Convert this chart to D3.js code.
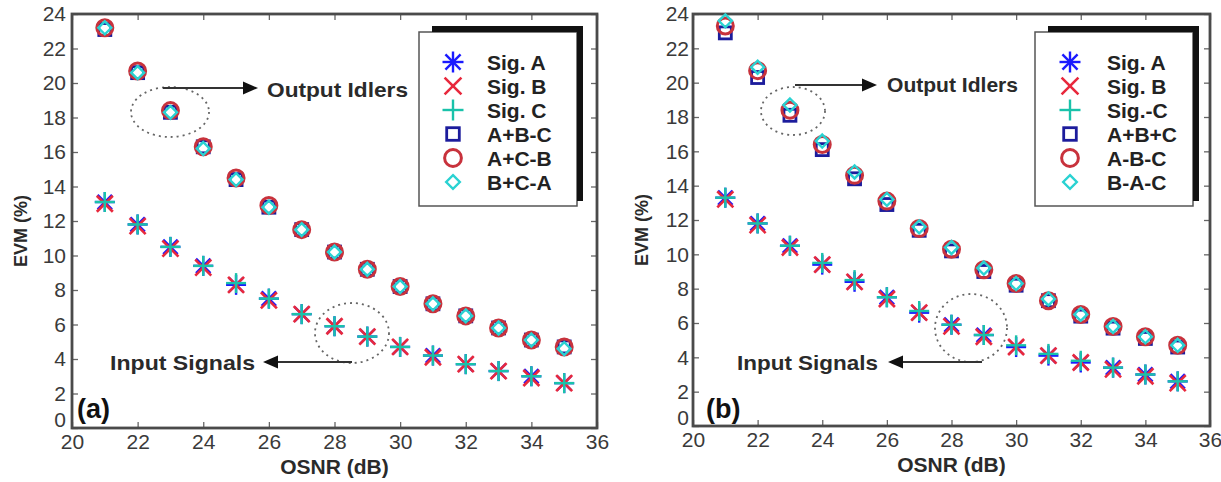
<!DOCTYPE html>
<html><head><meta charset="utf-8">
<script src="https://cdn.jsdelivr.net/npm/d3@7"></script>
<style>
body{margin:0;background:#fff;}
svg text{font-family:"Liberation Sans",Arial,sans-serif;}
</style></head>
<body><svg id="c" width="1221" height="482"></svg>
<script>
// ---------- data ----------
const osnr = [21,22,23,24,25,26,27,28,29,30,31,32,33,34,35];
const xTicks = [20,22,24,26,28,30,32,34,36];
const yTicks = [0,2,4,6,8,10,12,14,16,18,20,22,24];

// panel (a)
const sigA_a = [13.1,11.8,10.5,9.4,8.3,7.5,6.6,5.9,5.3,4.7,4.2,3.7,3.3,3.0,2.6];
const sigB_a = [13.0,11.7,10.4,9.3,8.3,7.4,6.6,5.9,5.3,4.7,4.1,3.7,3.3,2.9,2.6];
const sigC_a = [13.1,11.8,10.5,9.4,8.4,7.5,6.6,5.9,5.3,4.7,4.2,3.7,3.3,3.0,2.6];
const ABmC_a = [23.1,20.6,18.3,16.3,14.4,12.8,11.5,10.2,9.2,8.2,7.2,6.5,5.8,5.1,4.7];
const ACmB_a = [23.2,20.7,18.4,16.3,14.5,12.9,11.5,10.2,9.2,8.2,7.2,6.5,5.8,5.1,4.7];
const BCmA_a = [23.2,20.6,18.3,16.2,14.4,12.8,11.5,10.2,9.2,8.2,7.2,6.5,5.8,5.1,4.6];
const legendA = ["Sig. A","Sig. B","Sig. C","A+B-C","A+C-B","B+C-A"];

// panel (b)
const sigA_b = [13.3,11.8,10.5,9.4,8.4,7.5,6.6,5.9,5.3,4.6,4.1,3.7,3.4,3.0,2.6];
const sigB_b = [13.2,11.7,10.4,9.4,8.4,7.4,6.6,5.8,5.2,4.6,4.1,3.7,3.3,2.9,2.5];
const sigC_b = [13.3,11.8,10.5,9.5,8.5,7.5,6.7,5.9,5.3,4.7,4.2,3.8,3.4,3.0,2.6];
const ABC_b  = [22.9,20.3,18.1,16.1,14.4,12.9,11.4,10.2,9.0,8.2,7.3,6.4,5.7,5.1,4.6];
const AmBmC_b= [23.3,20.7,18.4,16.4,14.6,13.1,11.5,10.3,9.1,8.3,7.3,6.5,5.8,5.2,4.7];
const BmAmC_b= [23.6,20.9,18.7,16.6,14.8,13.2,11.6,10.4,9.2,8.3,7.4,6.5,5.8,5.2,4.7];
const legendB = ["Sig. A","Sig. B","Sig.-C","A+B+C","A-B-C","B-A-C"];

// ---------- drawing ----------
const svg = d3.select("#c");
const COL = {A:"#1a1aff", B:"#e8283c", C:"#19c2aa", sq:"#1c1c9c", ci:"#c8323c", di:"#2ad2d2"};

function marker(g, type, cx, cy, color, s){
  s = s || 1;
  const line = (l,w)=> g.append("line").attr("x1",cx+l[0]*s).attr("y1",cy+l[1]*s).attr("x2",cx+l[2]*s).attr("y2",cy+l[3]*s)
       .attr("stroke",color).attr("stroke-width",w);
  if(type==="star"){
    const r=10, d=r*0.72;
    [[-r,0,r,0],[0,-r,0,r],[-d,-d,d,d],[-d,d,d,-d]].forEach(l=>line(l,2.4));
  } else if(type==="x"){
    const d=8;
    [[-d,-d,d,d],[-d,d,d,-d]].forEach(l=>line(l,2.6));
  } else if(type==="plus"){
    const r=10;
    [[-r,0,r,0],[0,-r,0,r]].forEach(l=>line(l,2.4));
  } else if(type==="square"){
    const h=6*s;
    g.append("rect").attr("x",cx-h).attr("y",cy-h).attr("width",2*h).attr("height",2*h)
     .attr("fill","none").attr("stroke",color).attr("stroke-width",2.8);
  } else if(type==="circle"){
    g.append("circle").attr("cx",cx).attr("cy",cy).attr("r",8*s)
     .attr("fill","none").attr("stroke",color).attr("stroke-width",3);
  } else if(type==="diamond"){
    const h=6.5*s;
    g.append("path").attr("d",`M${cx},${cy-h}L${cx+h},${cy}L${cx},${cy+h}L${cx-h},${cy}Z`)
     .attr("fill","none").attr("stroke",color).attr("stroke-width",2.4);
  }
}

function panel(cfg){
  const {L,R,T,B} = cfg;
  const x = d3.scaleLinear().domain([20,36]).range([L,R]);
  const y = d3.scaleLinear().domain([0,24]).range([B,T]);
  const g = svg.append("g");

  // axes with inward ticks
  g.append("g").attr("transform",`translate(0,${B})`)
    .call(d3.axisBottom(x).tickValues(xTicks).tickSize(-6).tickSizeOuter(0).tickPadding(6));
  const ay = g.append("g").attr("transform",`translate(${L},0)`)
    .call(d3.axisLeft(y).tickValues(yTicks).tickSize(-6).tickSizeOuter(0).tickPadding(cfg.ypad));
  g.append("g").attr("transform",`translate(0,${T})`)
    .call(d3.axisTop(x).tickValues(xTicks).tickSize(-6).tickSizeOuter(0).tickFormat(""));
  g.append("g").attr("transform",`translate(${R},0)`)
    .call(d3.axisRight(y).tickValues(yTicks).tickSize(-6).tickSizeOuter(0).tickFormat(""));
  g.selectAll(".domain").remove();
  g.selectAll(".tick line").attr("stroke","#666").attr("stroke-width",1.3);
  g.selectAll(".tick text").attr("font-size",21).attr("fill","#3a3a3a").attr("font-family","Liberation Sans, Arial, sans-serif");
  ay.selectAll(".tick text").filter(d=>d===0).attr("dy","-0.05em");

  // frame
  g.append("rect").attr("x",L).attr("y",T).attr("width",R-L).attr("height",B-T)
   .attr("fill","none").attr("stroke","#4a4a4a").attr("stroke-width",2.8);

  // axis titles
  g.append("text").attr("x",(L+R)/2).attr("y",B+46).attr("text-anchor","middle")
   .attr("font-size",21).attr("font-weight","bold").attr("fill","#2a2a2a").text("OSNR (dB)");
  g.append("text").attr("transform",`translate(${cfg.ylx},${(T+B)/2+10}) rotate(-90)`)
   .attr("text-anchor","middle").attr("font-size",18).attr("font-weight","bold").attr("fill","#2a2a2a").text("EVM (%)");

  // panel label
  g.append("text").attr("x",cfg.lab[0]).attr("y",cfg.lab[1]).attr("font-size",27).attr("font-weight","bold")
   .attr("fill","#111").text(cfg.labText);

  // annotations: dotted ellipses + arrows
  const ann = g.append("g");
  cfg.ellipses.forEach(e=>{
    ann.append("ellipse").attr("cx",e[0]).attr("cy",e[1]).attr("rx",e[2]).attr("ry",e[3])
      .attr("fill","none").attr("stroke","#666").attr("stroke-width",1.8).attr("stroke-dasharray","2,4");
  });
  cfg.arrows.forEach(a=>{
    const [x1,y1,x2,y2] = a; const dir = Math.sign(x2-x1);
    ann.append("line").attr("x1",x1).attr("y1",y1).attr("x2",x2-dir*10).attr("y2",y2)
      .attr("stroke","#333").attr("stroke-width",1.8);
    ann.append("path").attr("d",`M${x2},${y2}L${x2-dir*15},${y2-6.5}L${x2-dir*15},${y2+6.5}Z`).attr("fill","#111");
  });
  cfg.notes.forEach(n=>{
    ann.append("text").attr("x",n[0]).attr("y",n[1]).attr("font-size",21).attr("font-weight","bold")
      .attr("fill","#2a2a2a").attr("textLength",n[3]).attr("lengthAdjust","spacingAndGlyphs").text(n[2]);
  });

  // data
  const dg = g.append("g");
  const order = [["square",cfg.series[3],COL.sq],["circle",cfg.series[4],COL.ci],["diamond",cfg.series[5],COL.di],
                 ["star",cfg.series[0],COL.A],["x",cfg.series[1],COL.B],["plus",cfg.series[2],COL.C]];
  order.forEach(([t,vals,c])=>{
    osnr.forEach((o,i)=> marker(dg,t,x(o),y(vals[i]),c));
  });

  // legend
  const lg = g.append("g");
  const lb = cfg.leg;
  lg.append("rect").attr("x",lb.x).attr("y",lb.y).attr("width",lb.w).attr("height",lb.h)
    .attr("fill","#fff").attr("stroke","#555").attr("stroke-width",1.5);
  lg.append("line").attr("x1",lb.x+13).attr("y1",lb.y-3).attr("x2",lb.x+lb.w+6).attr("y2",lb.y-3)
    .attr("stroke","#111").attr("stroke-width",6);
  lg.append("line").attr("x1",lb.x+lb.w+3).attr("y1",lb.y-3).attr("x2",lb.x+lb.w+3).attr("y2",lb.y+lb.h-5)
    .attr("stroke","#111").attr("stroke-width",6);
  const types = ["star","x","plus","square","circle","diamond"];
  const cols = [COL.A,COL.B,COL.C,COL.sq,COL.ci,COL.di];
  cfg.legText.forEach((t,i)=>{
    const yy = lb.y + 30 + i*24;
    marker(lg,types[i],lb.x+lb.mx,yy,cols[i],1.05);
    lg.append("text").attr("x",lb.x+lb.tx).attr("y",yy+7.5).attr("font-size",21).attr("font-weight","bold")
      .attr("fill","#222").text(t);
  });
}

panel({L:72,R:597,T:14,B:428, ylx:27, ypad:6, lab:[77,418], labText:"(a)",
  series:[sigA_a,sigB_a,sigC_a,ABmC_a,ACmB_a,BCmA_a], legText:legendA,
  leg:{x:419,y:32,w:158,h:174, mx:34, tx:68},
  ellipses:[[170,112,39,25],[352,333,37,30]],
  arrows:[[163,88,258,88],[352,362,263,362]],
  notes:[[267,97,"Output Idlers",141],[110,370,"Input Signals",145]]});

panel({L:693,R:1210,T:14,B:426, ylx:648, ypad:4, lab:[706,418], labText:"(b)",
  series:[sigA_b,sigB_b,sigC_b,ABC_b,AmBmC_b,BmAmC_b], legText:legendB,
  leg:{x:1035,y:32,w:158,h:174, mx:35, tx:72},
  ellipses:[[793,111,32,24],[971,328,36,34]],
  arrows:[[795,85,877,85],[982,362,888,362]],
  notes:[[887,92,"Output Idlers",131],[737,370,"Input Signals",141]]});
</script></body></html>
